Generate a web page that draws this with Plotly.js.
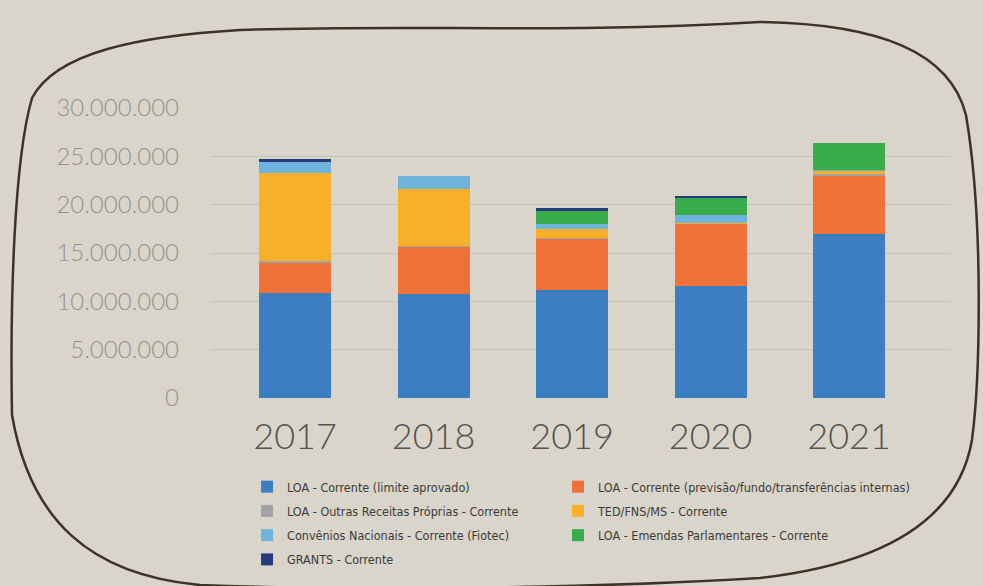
<!DOCTYPE html>
<html><head><meta charset="utf-8">
<script src="https://cdn.plot.ly/plotly-3.0.1.min.js"></script>
<style>html,body{margin:0;padding:0;background:#d9d5cb;}#chart{width:983px;height:586px;}</style>
</head><body><div id="chart"></div>
<script>
const years = ['2017','2018','2019','2020','2021'];
const seriesNames = [
  'LOA - Corrente (limite aprovado)',
  'LOA - Corrente (previsão/fundo/transferências internas)',
  'LOA - Outras Receitas Próprias - Corrente',
  'TED/FNS/MS - Corrente',
  'Convênios Nacionais - Corrente (Fiotec)',
  'LOA - Emendas Parlamentares - Corrente',
  'GRANTS - Corrente'
];
const loaLimite   = [10900000, 10800000, 11200000, 11600000, 17000000];
const loaPrevisao = [ 3100000,  4800000,  5200000,  6400000,  6000000];
const outrasRec   = [  150000,   150000,   200000,    50000,   200000];
const tedFns      = [ 9150000,  5900000,   900000,    50000,   300000];
const convenios   = [ 1100000,  1300000,   500000,   800000,   100000];
const emendas     = [       0,        0,  1300000,  1800000,  2800000];
const grants      = [  300000,        0,   400000,   200000,        0];
const yTicks = [0, 5000000, 10000000, 15000000, 20000000, 25000000, 30000000];

const seriesValues = [loaLimite, loaPrevisao, outrasRec, tedFns, convenios, emendas, grants];
const colors = ['#3b7ec2', '#f07239', '#a3a3a3', '#f8b028', '#6db3dc', '#38ab4d', '#263b7c'];
// legend column for each series (left column / right column as in the reference)
const legendCol = ['legend', 'legend2', 'legend', 'legend2', 'legend', 'legend2', 'legend'];

const traces = seriesValues.map((v, i) => ({
  type: 'bar', x: years, y: v, name: seriesNames[i],
  marker: {color: colors[i], line: {width: 0}},
  legend: legendCol[i], legendgroup: 'g' + i,
  hoverinfo: 'skip'
}));

// decorative hand-drawn frame (pixel -> paper conversion)
const L = 210, R = 951, T = 108, B = 398;
const px = x => ((x - L) / (R - L)).toFixed(4);
const py = y => ((B - y) / (B - T)).toFixed(4);
const P = (x, y) => px(x) + ',' + py(y);
const framePath =
  'M' + P(12, 415) +
  ' C' + P(10, 300) + ' ' + P(14, 160) + ' ' + P(32, 98) +
  ' C' + P(56, 52) + ' ' + P(140, 36) + ' ' + P(240, 30) +
  ' C' + P(420, 24) + ' ' + P(560, 34) + ' ' + P(760, 22) +
  ' C' + P(880, 24) + ' ' + P(950, 52) + ' ' + P(966, 115) +
  ' C' + P(984, 220) + ' ' + P(980, 380) + ' ' + P(972, 440) +
  ' C' + P(960, 510) + ' ' + P(900, 562) + ' ' + P(760, 578) +
  ' C' + P(560, 590) + ' ' + P(320, 590) + ' ' + P(200, 585) +
  ' C' + P(90, 575) + ' ' + P(30, 520) + ' ' + P(12, 415);

const legendFont = {family: 'Liberation Sans Narrow, DejaVu Sans Condensed, sans-serif', size: 12.5, color: '#3c3a36'};
const legendBase = {
  orientation: 'v', xanchor: 'left', yref: 'container', y: 0.1945, yanchor: 'top',
  tracegroupgap: 5, itemclick: false, itemdoubleclick: false,
  font: legendFont, bgcolor: 'rgba(0,0,0,0)', traceorder: 'grouped'
};

const layout = {
  width: 983, height: 586,
  paper_bgcolor: '#d9d5cb', plot_bgcolor: 'rgba(0,0,0,0)',
  margin: {l: L, r: 983 - R, t: T, b: 586 - B, pad: 0},
  barmode: 'stack', bargap: 0.48,
  separators: ',.',
  showlegend: true,
  xaxis: {
    type: 'category', range: [-0.614, 4.736],
    showgrid: false, zeroline: false, showline: false, ticks: '',
    tickfont: {family: 'Lato, Liberation Sans Narrow, sans-serif', size: 36, color: '#55524c', weight: 300},
    ticklabelstandoff: 14, fixedrange: true
  },
  yaxis: {
    range: [0, 30000000], tickvals: yTicks, tickformat: ',d',
    showgrid: true, gridcolor: '#c4c0b7', gridwidth: 1,
    zeroline: false, showline: false, ticks: '',
    tickfont: {family: 'Lato, Liberation Sans Narrow, sans-serif', size: 24, color: '#96928a', weight: 300},
    ticklabelstandoff: 30, fixedrange: true
  },
  legend: Object.assign({}, legendBase, {x: 0.05}),
  legend2: Object.assign({}, legendBase, {x: 0.4696}),
  shapes: [{
    type: 'path', xref: 'paper', yref: 'paper', path: framePath,
    line: {color: '#3a3427', width: 2.5}, layer: 'below'
  }]
};

Plotly.newPlot('chart', traces, layout, {displayModeBar: false, staticPlot: true});
</script></body></html>
